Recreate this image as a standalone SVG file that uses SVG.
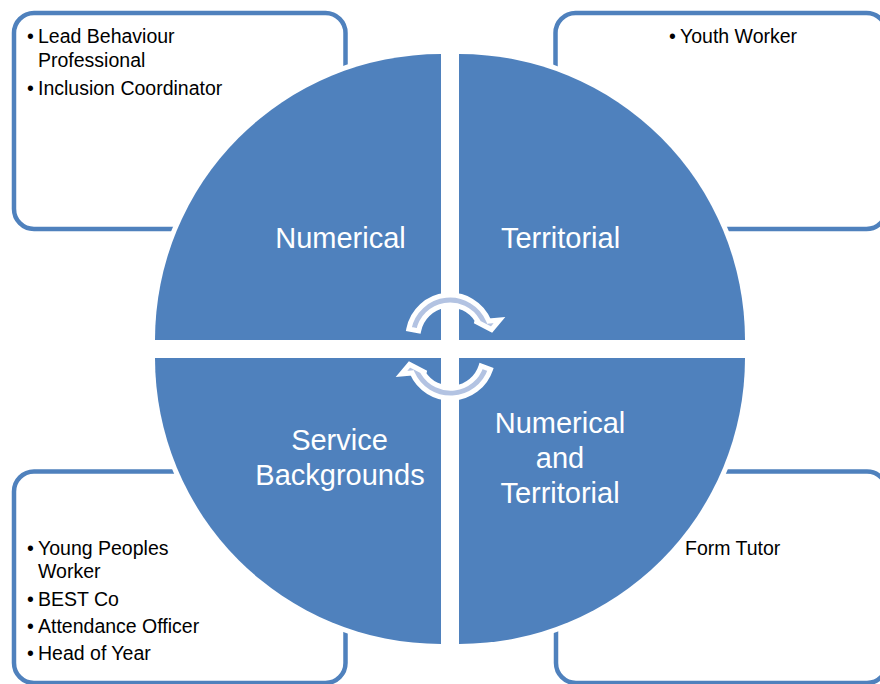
<svg xmlns="http://www.w3.org/2000/svg" width="880" height="684" viewBox="0 0 880 684">
<style>
.box{fill:#FFFFFF;stroke:#4F81BD;stroke-width:4.5}
.quad{fill:#4F81BD;stroke:#FFFFFF;stroke-width:10;paint-order:stroke}
.arrow{fill:#B3C3E2;stroke:#FFFFFF;stroke-width:5;stroke-linejoin:miter}
.t{font-family:"Liberation Sans",Arial,sans-serif;font-size:19.5px;fill:#000000}
.q{font-family:"Liberation Sans",Arial,sans-serif;font-size:29px;fill:#FFFFFF;text-anchor:middle}
</style>
<rect width="880" height="684" fill="#FFFFFF"/>
<g id="box-tl">
<rect class="box" x="14" y="13" width="331.5" height="216" rx="20"/>
<text class="t" x="27" y="43.3">•</text><text class="t" x="38" y="43.3">Lead Behaviour</text>
<text class="t" x="38" y="66.7">Professional</text>
<text class="t" x="27" y="95">•</text><text class="t" x="38" y="95">Inclusion Coordinator</text>
</g>
<g id="box-tr">
<rect class="box" x="555.5" y="13" width="331" height="216" rx="20"/>
<text class="t" x="669" y="43.3">•</text><text class="t" x="680" y="43.3">Youth Worker</text>
</g>
<g id="box-bl">
<rect class="box" x="14" y="471.5" width="331.5" height="211.5" rx="20"/>
<text class="t" x="27" y="555">•</text><text class="t" x="38" y="555">Young Peoples</text>
<text class="t" x="38" y="578.3">Worker</text>
<text class="t" x="27" y="605.7">•</text><text class="t" x="38" y="605.7">BEST Co</text>
<text class="t" x="27" y="633.3">•</text><text class="t" x="38" y="633.3">Attendance Officer</text>
<text class="t" x="27" y="660">•</text><text class="t" x="38" y="660">Head of Year</text>
</g>
<g id="box-br">
<rect class="box" x="556" y="471.5" width="331" height="211.5" rx="20"/>
<text class="t" x="685" y="555">Form Tutor</text>
</g>
<g id="quad-numerical">
<path class="quad" d="M441 340 L155 340 A286 286 0 0 1 441 54 Z"/>
<text class="q" x="340.5" y="248.3">Numerical</text>
</g>
<g id="quad-territorial">
<path class="quad" d="M459 340 L459 54 A286 286 0 0 1 745 340 Z"/>
<text class="q" x="560.5" y="248.3">Territorial</text>
</g>
<g id="quad-service">
<path class="quad" d="M441 358 L441 644 A286 286 0 0 1 155 358 Z"/>
<text class="q" x="339.5" y="450">Service</text>
<text class="q" x="340" y="484.5">Backgrounds</text>
</g>
<g id="quad-both">
<path class="quad" d="M459 358 L745 358 A286 286 0 0 1 459 644 Z"/>
<text class="q" x="560" y="433">Numerical</text>
<text class="q" x="560" y="468">and</text>
<text class="q" x="560" y="502.7">Territorial</text>
</g>
<g id="connectors">
<path class="arrow" d="M408.8 329 A42 42 0 0 1 488.8 321 L499.5 320 L491.5 329.5 L475 321 L477.7 321 A32 32 0 0 0 418.6 330.9 Z"/>
<path class="arrow" d="M490.5 369.4 A42 42 0 0 1 412.2 373 L401.5 374 L409.5 364.5 L426 373 L423.3 373 A32 32 0 0 0 481.1 365.9 Z"/>
</g>
</svg>
